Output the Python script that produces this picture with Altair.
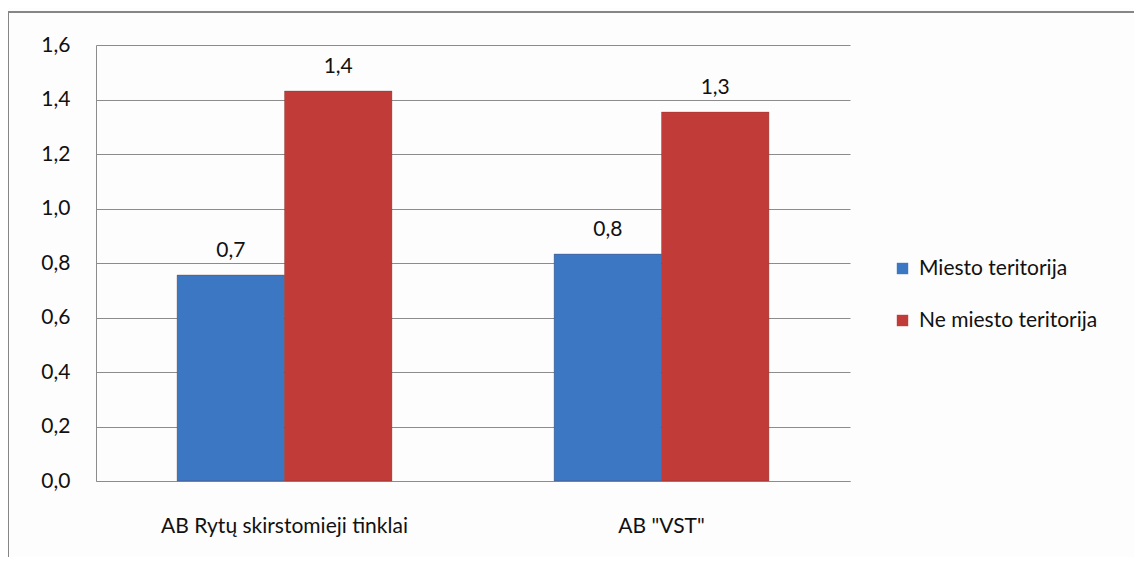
import altair as alt
import pandas as pd

categories = ["AB Rytų skirstomieji tinklai", 'AB "VST"']
series = ["Miesto teritorija", "Ne miesto teritorija"]
miesto = [0.756, 0.833]
ne_miesto = [1.431, 1.354]
miesto_labels = ["0,7", "0,8"]
ne_miesto_labels = ["1,4", "1,3"]
colors = ["#3b77c3", "#c13c39"]

rows = []
for i, c in enumerate(categories):
    rows.append({"cat": c, "series": series[0], "value": miesto[i], "label": miesto_labels[i]})
    rows.append({"cat": c, "series": series[1], "value": ne_miesto[i], "label": ne_miesto_labels[i]})
df = pd.DataFrame(rows)

FONT = "Lato"
FS = 21

x = alt.X("cat:N", sort=categories, title=None,
          scale=alt.Scale(paddingInner=0.43, paddingOuter=0.215),
          axis=alt.Axis(labelAngle=0, ticks=False, labelPadding=34, labelFontSize=FS,
                        labelFont=FONT, labelColor="#111", domainColor="#8c8c8c",
                        labelLimit=400))
y = alt.Y("value:Q", title=None,
          scale=alt.Scale(domain=[0, 1.6], nice=False),
          axis=alt.Axis(values=[0, 0.2, 0.4, 0.6, 0.8, 1.0, 1.2, 1.4, 1.6],
                        labelExpr="replace(format(datum.value, '.1f'), '.', ',')",
                        ticks=False, labelPadding=26, labelFontSize=FS, labelFont=FONT,
                        labelColor="#111", grid=True, gridColor="#8c8c8c", gridWidth=1,
                        domainColor="#8c8c8c"))
xo = alt.XOffset("series:N", sort=series)
color = alt.Color("series:N", sort=series, title=None,
                  scale=alt.Scale(domain=series, range=colors),
                  legend=alt.Legend(orient="none", legendX=796, legendY=213,
                                    symbolType="square", symbolSize=130,
                                    symbolStrokeWidth=0, labelFontSize=FS, labelFont=FONT,
                                    labelColor="#111", rowPadding=30, labelOffset=6,
                                    labelLimit=300))

bars = alt.Chart(df).mark_bar(stroke="#6b2a2a", strokeWidth=0.6, strokeOpacity=0.5).encode(
    x=x, y=y, xOffset=xo, color=color)

texts = alt.Chart(df).mark_text(baseline="bottom", dy=-14, fontSize=FS, font=FONT,
                                color="#111").encode(
    x=alt.X("cat:N", sort=categories), y="value:Q", xOffset=xo, text="label:N")

top_border = alt.Chart(df).mark_rule(color="#868686", strokeWidth=2).encode(
    x=alt.value(-88), x2=alt.value(1040), y=alt.value(-33))
left_border = alt.Chart(df).mark_rule(color="#868686", strokeWidth=2).encode(
    x=alt.value(-88), y=alt.value(-33), y2=alt.value(520))

chart = alt.layer(bars, texts, top_border, left_border).properties(
    width=754, height=436,
    autosize=alt.AutoSizeParams(type="none"),
    padding={"left": 88, "top": 37, "right": 284, "bottom": 76},
    background="#fdfdfd",
).configure_view(stroke=None)

chart.save("out.html", embed_options={"renderer": "svg", "actions": False})
